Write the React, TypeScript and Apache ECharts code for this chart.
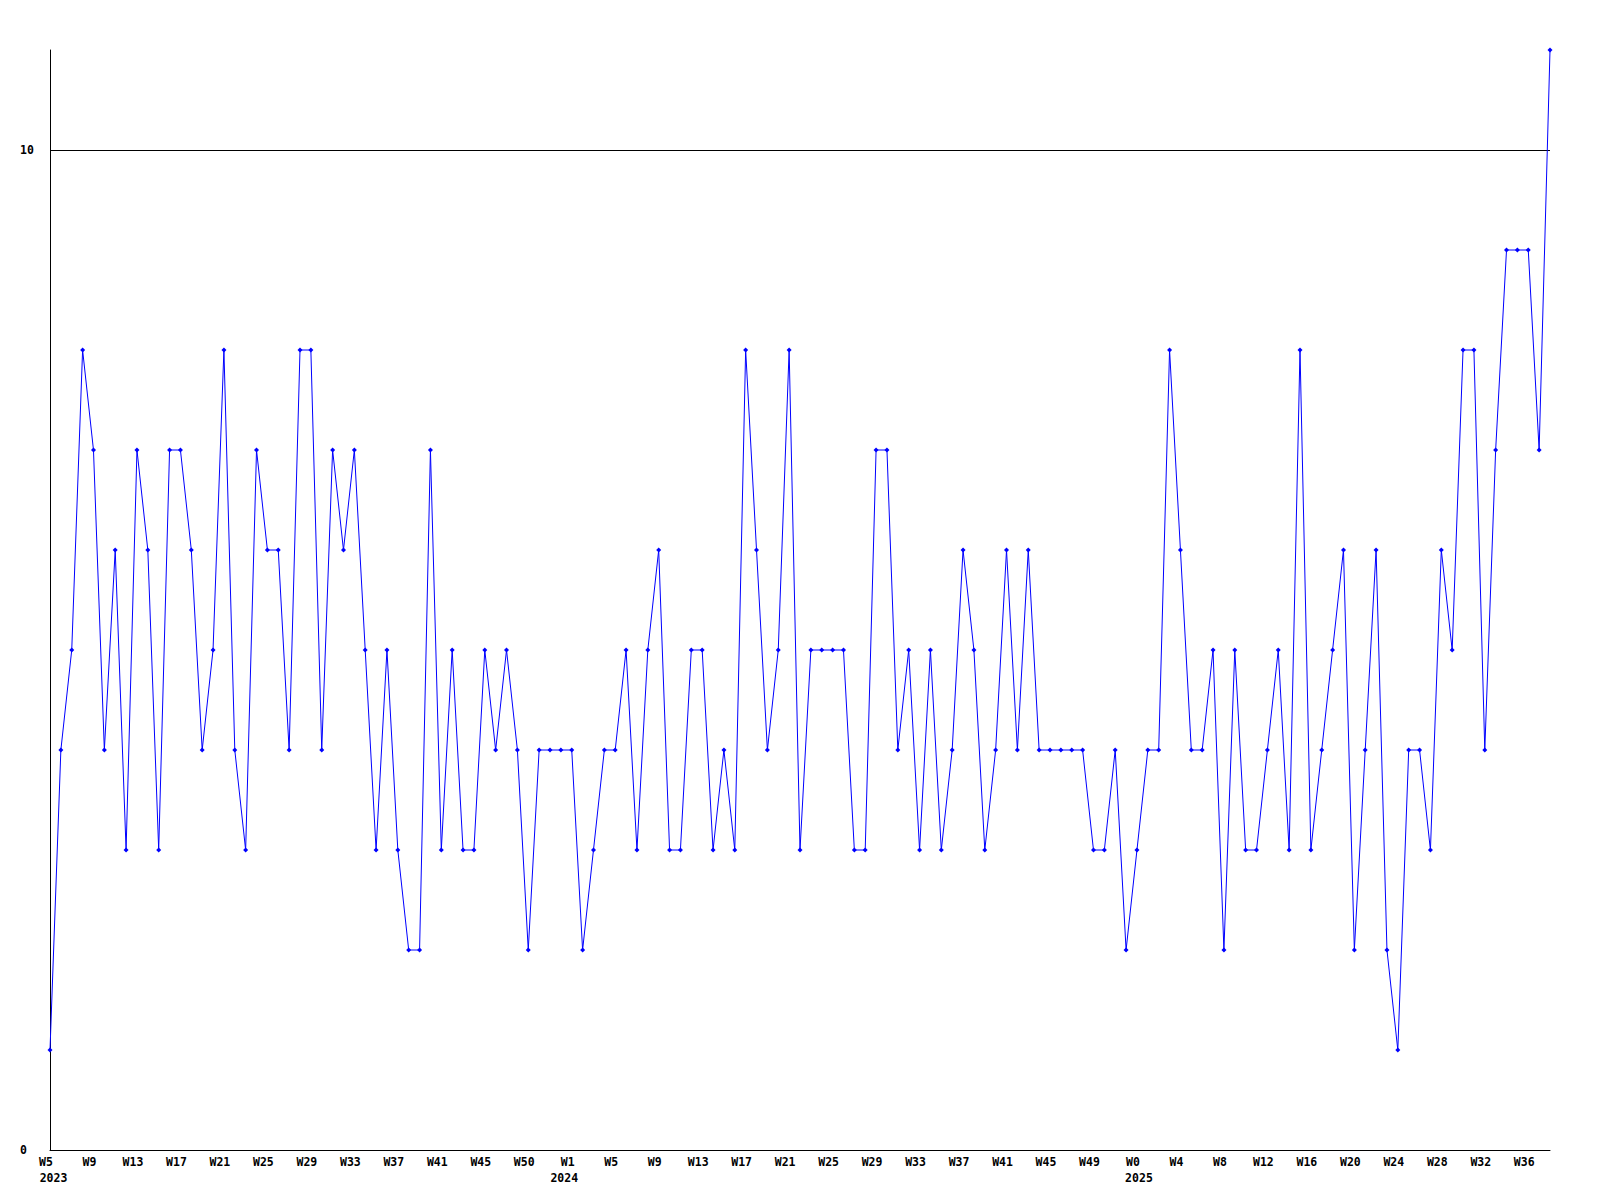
import React, { useEffect, useRef } from "react";
import * as echarts from "echarts";

// Weekly values, 2023 W5 .. 2025 W38
const values: number[] = [
  1, 4, 5, 8, 7, 4, 6, 3, 7, 6,
  3, 7, 7, 6, 4, 5, 8, 4, 3, 7,
  6, 6, 4, 8, 8, 4, 7, 6, 7, 5,
  3, 5, 3, 2, 2, 7, 3, 5, 3, 3,
  5, 4, 5, 4, 2, 4, 4, 4, 4, 2,
  3, 4, 4, 5, 3, 5, 6, 3, 3, 5,
  5, 3, 4, 3, 8, 6, 4, 5, 8, 3,
  5, 5, 5, 5, 3, 3, 7, 7, 4, 5,
  3, 5, 3, 4, 6, 5, 3, 4, 6, 4,
  6, 4, 4, 4, 4, 4, 3, 3, 4, 2,
  3, 4, 4, 8, 6, 4, 4, 5, 2, 5,
  3, 3, 4, 5, 3, 8, 3, 4, 5, 6,
  2, 4, 6, 2, 1, 4, 4, 3, 6, 5,
  8, 8, 4, 7, 9, 9, 9, 7, 11,
];

// Tick labels shown every 4th point
const weekTicks: string[] = [
  "W5", "W9", "W13", "W17", "W21", "W25", "W29", "W33", "W37", "W41", "W45", "W50",
  "W1", "W5", "W9", "W13", "W17", "W21", "W25", "W29", "W33", "W37", "W41", "W45", "W49",
  "W0", "W4", "W8", "W12", "W16", "W20", "W24", "W28", "W32", "W36",
];
const yearTicks: Record<number, string> = { 0: "2023", 12: "2024", 25: "2025" };
const yearStyleKey: Record<number, string> = { 0: "y0", 12: "y1", 25: "y2" };

const yTicks = { min: 0, max: 11, interval: 10 };
const gridValue = 10;

const FONT = "'DejaVu Sans Mono', 'Liberation Mono', monospace";

export default function App() {
  const ref = useRef<HTMLDivElement>(null);
  useEffect(() => {
    if (!ref.current) return;
    const chart = echarts.init(ref.current, null, { renderer: "svg" });
    const categories = values.map((_, i) => String(i));
    const option: any = {
      animation: false,
      backgroundColor: "#ffffff",
      grid: { left: 50, right: 50, top: 50, bottom: 50, containLabel: false },
      xAxis: [
        {
          type: "category",
          data: categories,
          boundaryGap: false,
          axisLine: { show: true, lineStyle: { color: "#000", width: 1 } },
          axisTick: { show: false },
          splitLine: { show: false },
          axisLabel: {
            interval: 3,
            margin: 6,
            color: "#000",
            fontFamily: FONT,
            fontWeight: "bold",
            fontSize: 11.5,
            padding: [0, 8, 0, 0],
            formatter: (_v: string, idx: number) => {
              const k = idx / 4;
              return Number.isInteger(k) && weekTicks[k] ? weekTicks[k] : "";
            },
          },
        },
        {
          type: "category",
          data: categories,
          boundaryGap: false,
          position: "bottom",
          axisLine: { show: false },
          axisTick: { show: false },
          splitLine: { show: false },
          axisLabel: {
            interval: 3,
            margin: 22,
            color: "#000",
            fontFamily: FONT,
            fontWeight: "bold",
            fontSize: 11.5,
            formatter: (_v: string, idx: number) => {
              const k = idx / 4;
              if (Number.isInteger(k) && yearTicks[k]) {
                return "{" + yearStyleKey[k] + "|" + yearTicks[k] + "}";
              }
              return "";
            },
            rich: {
              y0: { padding: [0, 0, 0, 7], fontFamily: FONT, fontWeight: "bold", fontSize: 11.5, color: "#000" },
              y1: { padding: [0, 15, 0, 0], fontFamily: FONT, fontWeight: "bold", fontSize: 11.5, color: "#000" },
              y2: { padding: [0, 0, 0, 4], fontFamily: FONT, fontWeight: "bold", fontSize: 11.5, color: "#000" },
            },
          },
        },
      ],
      yAxis: {
        type: "value",
        min: yTicks.min,
        max: yTicks.max,
        interval: yTicks.interval,
        axisLine: { show: true, lineStyle: { color: "#000", width: 1 } },
        axisTick: { show: false },
        splitLine: { show: false },
        axisLabel: {
          margin: 30,
          align: "left",
          color: "#000",
          fontFamily: FONT,
          fontWeight: "bold",
          fontSize: 11.5,
          showMaxLabel: false,
        },
      },
      series: [
        {
          type: "line",
          data: values,
          xAxisIndex: 0,
          symbol: "diamond",
          symbolSize: 5,
          showAllSymbol: true,
          lineStyle: { color: "#0000ff", width: 1 },
          itemStyle: { color: "#0000ff" },
          emphasis: { disabled: true },
          z: 3,
          markLine: {
            silent: true,
            symbol: ["none", "none"],
            label: { show: false },
            lineStyle: { color: "#000", width: 1, type: "solid" },
            emphasis: { disabled: true },
            data: [{ yAxis: gridValue }],
            z: 1,
          },
        },
      ],
    };
    chart.setOption(option);
    return () => chart.dispose();
  }, []);
  return (
    <div
      ref={ref}
      style={{ position: "fixed", left: 0, top: 0, width: 1600, height: 1200, background: "#fff" }}
    />
  );
}
